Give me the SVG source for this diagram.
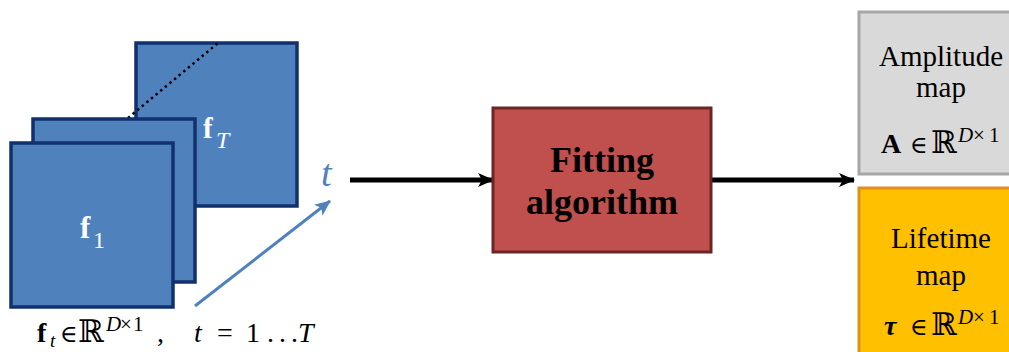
<svg xmlns="http://www.w3.org/2000/svg" width="1009" height="352" viewBox="0 0 1009 352">
<style>
.frame{fill:#4f81bd;stroke:#10306e;stroke-width:3.5}
.serif{font-family:"Liberation Serif","Times New Roman",serif}
.math{font-family:"Liberation Serif","DejaVu Serif",serif;font-size:28px;fill:#000}
.bb{font-size:31px}
.white{fill:#ffffff}
.it{font-style:italic}
.b{font-weight:bold}
.sup{font-size:21px}
.conn{stroke:#000;stroke-width:5;fill:none}
</style>
<defs>
<marker id="ah" markerWidth="16" markerHeight="14" refX="15" refY="7" orient="auto" markerUnits="userSpaceOnUse">
<path d="M0,0 L16,7 L0,14 L4,7 Z" fill="#000"/>
</marker>
<marker id="ahb" markerWidth="16" markerHeight="14" refX="15" refY="7" orient="auto" markerUnits="userSpaceOnUse">
<path d="M0,0 L16,7 L0,14 L4,7 Z" fill="#4f81bd"/>
</marker>
</defs>
<g id="frames">
<rect id="frameT" class="frame" x="136" y="43" width="161" height="163"/>
<line x1="128" y1="118" x2="218" y2="43" stroke="#000" stroke-width="2.5" stroke-dasharray="2.5,3.5"/>
<rect id="frame2" class="frame" x="33" y="119" width="162" height="163"/>
<rect id="frame1" class="frame" x="11" y="143" width="162" height="164"/>
<text class="serif white b" x="203" y="138" font-size="29">f</text>
<text class="serif white it" x="216" y="148" font-size="24">T</text>
<text class="serif white b" x="80" y="238" font-size="31">f</text>
<text class="serif white" x="93" y="248" font-size="24">1</text>
</g>
<g id="time-axis">
<line x1="195" y1="306" x2="330" y2="201" stroke="#4f81bd" stroke-width="3" marker-end="url(#ahb)"/>
<text class="serif it" x="321" y="186" font-size="38" fill="#4f81bd">t</text>
</g>
<g id="caption">
<text class="math" y="342"><tspan class="b" x="37">f</tspan><tspan class="it" x="50" y="347" font-size="19">t</tspan><tspan x="60" y="342" font-size="24">∈</tspan><tspan class="bb" x="78">ℝ</tspan><tspan class="it sup" x="106" y="331">D</tspan><tspan class="sup" x="120">×</tspan><tspan class="sup" x="133">1</tspan><tspan x="157" y="342">,</tspan><tspan class="it" x="194">t</tspan><tspan x="217">=</tspan><tspan x="246">1</tspan><tspan x="267">.</tspan><tspan x="279">.</tspan><tspan x="291">.</tspan><tspan class="it" x="298">T</tspan></text>
</g>
<g id="connectors">
<line class="conn" x1="350" y1="180" x2="493" y2="180" marker-end="url(#ah)"/>
<line class="conn" x1="711" y1="180" x2="854" y2="180" marker-end="url(#ah)"/>
</g>
<g id="fitting">
<rect x="493" y="108" width="218" height="144" fill="#c0504d" stroke="#6b2624" stroke-width="3"/>
<text class="serif b" x="602" y="172" font-size="36" text-anchor="middle">Fitting</text>
<text class="serif b" x="602" y="214" font-size="36" text-anchor="middle">algorithm</text>
</g>
<g id="amplitude">
<rect x="859" y="12" width="160" height="162" fill="#d9d9d9" stroke="#a6a6a6" stroke-width="3"/>
<text class="serif" x="941" y="66" font-size="29" text-anchor="middle">Amplitude</text>
<text class="serif" x="941" y="97" font-size="29" text-anchor="middle">map</text>
<text class="math" y="153"><tspan class="b" x="881">A</tspan><tspan x="910" font-size="24">∈</tspan><tspan class="bb" x="931">ℝ</tspan><tspan class="it sup" x="958" y="142">D</tspan><tspan class="sup" x="973">×</tspan><tspan class="sup" x="989">1</tspan></text>
</g>
<g id="lifetime">
<rect x="859" y="188" width="160" height="180" fill="#ffc000" stroke="#e0901a" stroke-width="3"/>
<text class="serif" x="941" y="248" font-size="29" text-anchor="middle">Lifetime</text>
<text class="serif" x="941" y="285" font-size="29" text-anchor="middle">map</text>
<text class="math" y="335"><tspan class="b it" x="884">τ</tspan><tspan x="910" font-size="24">∈</tspan><tspan class="bb" x="931">ℝ</tspan><tspan class="it sup" x="958" y="324">D</tspan><tspan class="sup" x="973">×</tspan><tspan class="sup" x="989">1</tspan></text>
</g>
</svg>
